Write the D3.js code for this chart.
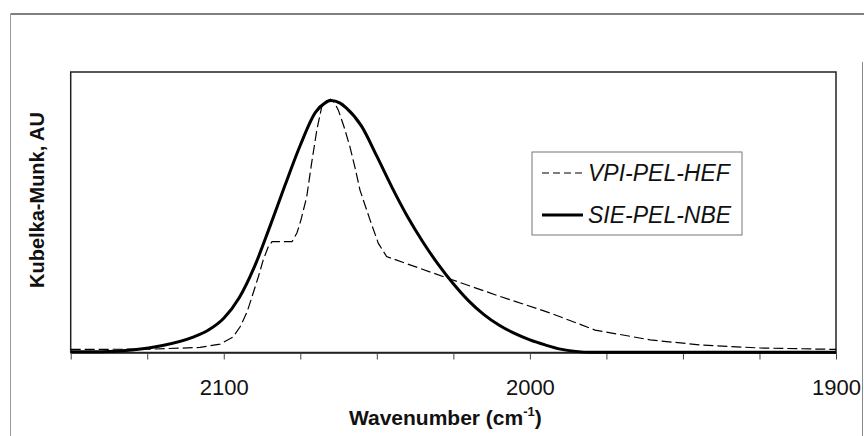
<!DOCTYPE html>
<html><head><meta charset="utf-8">
<script src="https://cdn.jsdelivr.net/npm/d3@7/dist/d3.min.js"></script>
<style>body{margin:0;background:#fff;} svg{display:block;font-family:"Liberation Sans",Arial,Helvetica,sans-serif;}</style>
</head><body><svg id="c" width="864" height="436"></svg>
<script>
// ---- data ----
const seriesNames = ["VPI-PEL-HEF", "SIE-PEL-NBE"];
const vpiWavenumber = [2150,2124.1,2107.8,2101.2,2097,2094.7,2092.4,2090.8,2088.7,2087.1,2085.5,2084.2,2077.7,2076.1,2074.8,2072.9,2071.3,2069.6,2068,2066.6,2065.1,2064,2062.6,2060.7,2058.8,2057.1,2055.5,2052.2,2049.5,2046.8,2026.1,2009.8,1993.4,1978.7,1960.7,1944.4,1924.8,1900];
const vpiValue      = [0.011,0.012,0.018,0.030,0.055,0.091,0.144,0.198,0.270,0.330,0.376,0.395,0.395,0.426,0.472,0.555,0.675,0.793,0.876,0.897,0.903,0.893,0.865,0.804,0.734,0.658,0.579,0.472,0.389,0.342,0.262,0.200,0.141,0.080,0.045,0.027,0.016,0.011];
const sieWavenumber = [2150,2140,2130,2120,2110,2105,2100,2095,2090,2085,2080,2075,2070,2067,2065,2062,2060,2055,2050,2045,2040,2035,2030,2025,2020,2015,2010,2005,2000,1995,1990,1985,1980,1960,1940,1920,1900];
const sieValue      = [0.003,0.003,0.009,0.025,0.055,0.080,0.122,0.194,0.305,0.447,0.596,0.739,0.857,0.889,0.898,0.889,0.872,0.807,0.700,0.588,0.485,0.395,0.315,0.245,0.184,0.135,0.097,0.068,0.045,0.027,0.012,0.004,0.001,0.001,0.001,0.001,0.001];
const xTicks = [2150,2125,2100,2075,2050,2025,2000,1975,1950,1925,1900];
const xTickLabels = ["2100","2000","1900"];
const xTitle = "Wavenumber (cm";
const xTitleSup = "-1";
const yTitle = "Kubelka-Munk, AU";

const svg = d3.select("#c");
const L = 70.7, R = 836, T = 72, B = 352.5;
const x = d3.scaleLinear().domain([2150, 1900]).range([L, R]);
const y = d3.scaleLinear().domain([0, 1]).range([B, T]);

// outer frame
svg.append("line").attr("x1",10.5).attr("x2",864).attr("y1",14).attr("y2",14).attr("stroke","#555").attr("stroke-width",1.5);
svg.append("line").attr("x1",10.5).attr("x2",10.5).attr("y1",14).attr("y2",436).attr("stroke","#999").attr("stroke-width",1);
svg.append("line").attr("x1",862.5).attr("x2",862.5).attr("y1",62).attr("y2",436).attr("stroke","#888").attr("stroke-width",1);

// plot frame
svg.append("rect").attr("x",L).attr("y",T).attr("width",R-L).attr("height",B-T)
  .attr("fill","none").attr("stroke","#222").attr("stroke-width",1.5);

// x axis
const ax = svg.append("g").attr("transform",`translate(0,${B})`)
  .call(d3.axisBottom(x).tickValues(xTicks).tickSize(7).tickSizeOuter(0)
    .tickFormat(d => xTickLabels.includes(String(d)) ? String(d) : ""));
ax.select(".domain").attr("stroke","#222").attr("stroke-width",1.5);
ax.selectAll(".tick line").attr("stroke","#444").attr("stroke-width",1);
ax.selectAll(".tick text").attr("font-size",22).attr("fill","#111")
  .attr("font-family",'"Liberation Sans",Arial,sans-serif').attr("y",27);

// axis titles
const xt = svg.append("text").attr("x",(L+R)/2 - 8).attr("y",425).attr("text-anchor","middle")
  .attr("font-size",21).attr("font-weight","bold").attr("fill","#111");
xt.append("tspan").text(xTitle);
xt.append("tspan").attr("font-size",13).attr("dy",-9).text(xTitleSup);
xt.append("tspan").attr("dy",9).text(")");

svg.append("text").attr("transform","translate(44,200) rotate(-90)").attr("text-anchor","middle")
  .attr("font-size",20).attr("font-weight","bold").attr("fill","#111").text(yTitle);

// curves
const vpi = vpiWavenumber.map((w,i) => [w, vpiValue[i]]);
const sie = sieWavenumber.map((w,i) => [w, sieValue[i]]);
svg.append("path").datum(sie)
  .attr("d", d3.line().x(d => x(d[0])).y(d => y(d[1])).curve(d3.curveMonotoneX))
  .attr("fill","none").attr("stroke","#000").attr("stroke-width",3);
svg.append("path").datum(vpi)
  .attr("d", d3.line().x(d => x(d[0])).y(d => y(d[1])).curve(d3.curveLinear))
  .attr("fill","none").attr("stroke","#000").attr("stroke-width",1.2).attr("stroke-dasharray","10,4");

// legend
const lg = svg.append("g");
lg.append("rect").attr("x",532).attr("y",152).attr("width",210).attr("height",83)
  .attr("fill","#fff").attr("stroke","#777").attr("stroke-width",1);
const rows = [{name: seriesNames[0], dash: "7,4", w: 1.2, yy: 173},
              {name: seriesNames[1], dash: null, w: 3, yy: 215}];
rows.forEach(r => {
  const l = lg.append("line").attr("x1",542).attr("x2",583).attr("y1",r.yy).attr("y2",r.yy)
    .attr("stroke","#000").attr("stroke-width",r.w);
  if (r.dash) l.attr("stroke-dasharray", r.dash);
  lg.append("text").attr("x",588).attr("y",r.yy+8).attr("font-size",23).attr("font-style","italic")
    .attr("fill","#111").text(r.name);
});
</script></body></html>
